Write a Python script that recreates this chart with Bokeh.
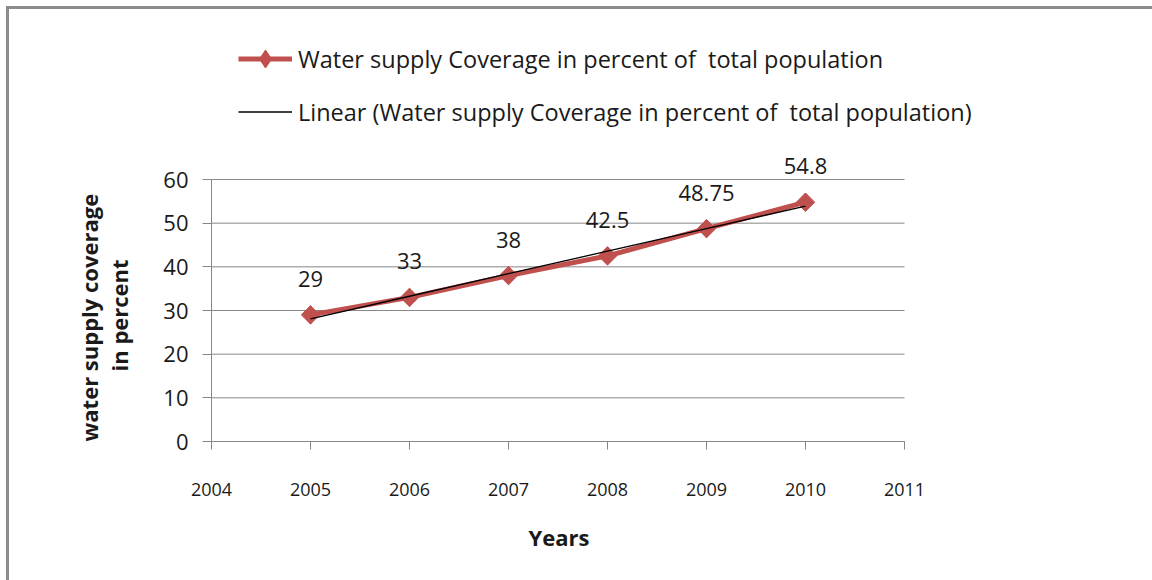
import numpy as np
from bokeh.plotting import figure
from bokeh.core.properties import value
from bokeh.models import (Range1d, FixedTicker, Legend, LegendItem, ColumnDataSource,
                          LabelSet, Title)
from bokeh.embed import file_html
from bokeh.resources import INLINE

# Water supply coverage by year
years = [2005, 2006, 2007, 2008, 2009, 2010]
coverage = [29, 33, 38, 42.5, 48.75, 54.8]
coverage_labels = ["29", "33", "38", "42.5", "48.75", "54.8"]

x_ticks = [2004, 2005, 2006, 2007, 2008, 2009, 2010, 2011]
y_ticks = [0, 10, 20, 30, 40, 50, 60]

series_name = "Water supply Coverage in percent of  total population"
trend_name = "Linear (Water supply Coverage in percent of  total population)"
x_title = "Years"
y_title_lines = ["water supply  coverage", "in percent"]

FONT = "Open Sans"
RED = "#C0504D"
GRAY = "#878787"
TEXT = "#1a1a1a"

# page geometry (pixels)
W, H = 1152, 580
AXIS_LEFT, AXIS_RIGHT = 211, 904      # x positions of first / last year tick
AXIS_TOP, AXIS_BOTTOM = 179, 441      # y positions of top tick / zero line

# the drawing frame reaches the top and right edges so that the legend and
# value labels above the axes are not clipped; axes are bounded to the ticks
x0, x1 = x_ticks[0], x_ticks[-1]
y0, y1 = y_ticks[0], y_ticks[-1]
px_per_x = (AXIS_RIGHT - AXIS_LEFT) / (x1 - x0)
px_per_y = (AXIS_BOTTOM - AXIS_TOP) / (y1 - y0)
x_end = x1 + (W - AXIS_RIGHT) / px_per_x
y_end = y1 + AXIS_TOP / px_per_y

# least-squares trend through the yearly values
slope, intercept = np.polyfit(years, coverage, 1)
trend = [slope * x + intercept for x in years]

src = ColumnDataSource(dict(x=years, y=coverage, label=coverage_labels, trend=trend))
grid_src = ColumnDataSource(dict(x0=[x0] * len(y_ticks), x1=[x1] * len(y_ticks),
                                 y=y_ticks))

p = figure(width=W, height=H, output_backend="svg", toolbar_location=None,
           x_range=Range1d(x0, x_end), y_range=Range1d(y0, y_end),
           min_border_left=AXIS_LEFT, min_border_right=0,
           min_border_top=0, min_border_bottom=H - AXIS_BOTTOM)
p.outline_line_color = None
p.background_fill_color = None
p.border_fill_color = None

# thin gray chart border along the top and left edges
p.styles = {
    "background-color": "white",
    "background-image": "linear-gradient(#8c8c8c, #8c8c8c), linear-gradient(#8c8c8c, #8c8c8c)",
    "background-size": "calc(100% - 6px) 3px, 3px calc(100% - 6px)",
    "background-position": "6px 6px, 6px 6px",
    "background-repeat": "no-repeat",
}

# axes
p.xaxis.ticker = FixedTicker(ticks=x_ticks)
p.yaxis.ticker = FixedTicker(ticks=y_ticks)
p.xaxis.bounds = (x0, x1)
p.yaxis.bounds = (y0, y1)
p.xaxis.major_label_overrides = {t: str(t) for t in x_ticks}
for ax in (p.xaxis, p.yaxis):
    ax.axis_line_color = GRAY
    ax.axis_line_width = 1
    ax.major_tick_line_color = GRAY
    ax.minor_tick_line_color = None
    ax.major_tick_in = 0
    ax.major_label_text_font = FONT
    ax.major_label_text_color = TEXT

p.xaxis.major_tick_out = 8
p.xaxis.major_label_text_font_size = "18px"
p.xaxis.major_label_standoff = 33
p.xaxis.axis_label = None

p.yaxis.major_tick_out = 9
p.yaxis.major_label_text_font_size = "22px"
p.yaxis.major_label_standoff = 14
# blank label keeps a gap between tick labels and the axis title
p.yaxis.axis_label = " "
p.yaxis.axis_label_text_font_size = "10px"
p.yaxis.axis_label_standoff = 11

p.xgrid.grid_line_color = None
p.ygrid.grid_line_color = None

# axis titles
title_style = dict(text_font=FONT, text_font_size="22px", text_font_style="bold",
                   text_color=TEXT, align="left")
p.add_layout(Title(text=x_title, offset=317, standoff=42, **title_style), "below")
p.add_layout(Title(text=y_title_lines[1], offset=70, standoff=0,
                   vertical_align="top", **title_style), "left")
p.add_layout(Title(text=y_title_lines[0], offset=0, standoff=0,
                   vertical_align="bottom", **title_style), "left")

# horizontal gridlines spanning the year axis only
p.segment(x0="x0", x1="x1", y0="y", y1="y", source=grid_src,
          line_color=GRAY, line_width=1)

# series: line, diamond key (shown in the legend), diamond markers, trend line
line_r = p.line("x", "y", source=src, line_color=RED, line_width=5)
key_r = p.scatter("x", "y", source=src, marker="diamond", size=18,
                  fill_color=RED, line_color=RED)
mark_r = p.scatter("x", "y", source=src, marker="square", angle=np.pi / 4,
                   size=13, fill_color=RED, line_color=RED)
trend_r = p.line("x", "trend", source=src, line_color="black", line_width=1.3)

labels = LabelSet(x="x", y="y", text="label", source=src, text_align="center",
                  text_baseline="middle", y_offset=36, text_font=value(FONT),
                  text_font_size="22px", text_color=TEXT)
p.add_layout(labels)

legend = Legend(items=[LegendItem(label=series_name, renderers=[line_r, key_r]),
                       LegendItem(label=trend_name, renderers=[trend_r])],
                location=(27, 307), orientation="vertical",
                glyph_width=54, glyph_height=45, label_height=26,
                label_standoff=6, spacing=8, padding=0, margin=0,
                label_text_font=FONT, label_text_font_size="23.5px",
                label_text_color=TEXT,
                border_line_color=None, background_fill_alpha=0)
p.add_layout(legend, "center")

open("out.html", "w").write(file_html(p, INLINE))
